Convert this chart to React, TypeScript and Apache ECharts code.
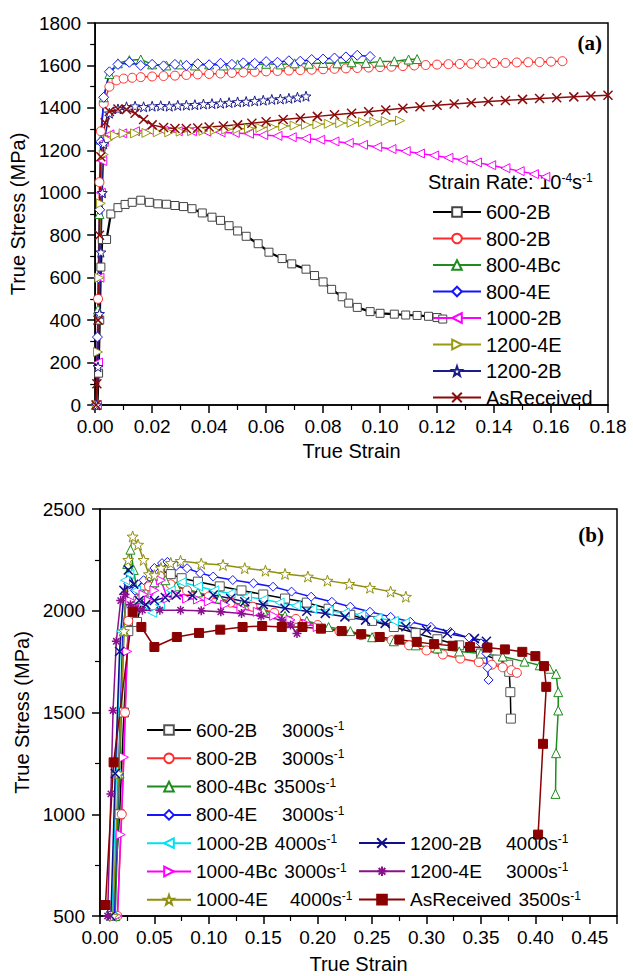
import React, { useEffect, useRef } from 'react';
import * as echarts from 'echarts';

// ---------- (a) quasi-static, strain rate 10^-4 s^-1 ----------
const topXTicks = [0, 0.18, 0.02];
const topYTicks = [0, 1800, 200];

const a600_2B: [number, number][] = [
  [0.0008, 0], [0.0012, 150], [0.0016, 400], [0.002, 650], [0.0025, 780], [0.004, 780], [0.0055, 900], [0.008, 930],
  [0.0105, 945], [0.013, 955], [0.016, 965], [0.019, 955], [0.022, 948], [0.025, 946], [0.028, 940], [0.031, 935],
  [0.034, 925], [0.0376, 905], [0.041, 885], [0.044, 870], [0.047, 845], [0.05, 820], [0.053, 795], [0.0572, 760],
  [0.061, 720], [0.0656, 690], [0.069, 665], [0.074, 640], [0.077, 610], [0.08, 580], [0.083, 545], [0.0867, 510],
  [0.089, 480], [0.092, 460], [0.0965, 440], [0.1, 432], [0.105, 428], [0.109, 424], [0.113, 422], [0.117, 418],
  [0.12, 412], [0.122, 405],
];
const a800_2B: [number, number][] = [
  [0.0005, 0], [0.001, 500], [0.0015, 1050], [0.002, 1290], [0.003, 1420], [0.005, 1500], [0.0075, 1530], [0.01, 1538],
  [0.013, 1542], [0.016, 1545], [0.02, 1548], [0.024, 1550], [0.028, 1552], [0.032, 1555], [0.036, 1558], [0.04, 1560],
  [0.044, 1562], [0.048, 1565], [0.052, 1567], [0.056, 1570], [0.06, 1572], [0.064, 1574], [0.068, 1576], [0.072, 1578],
  [0.076, 1580], [0.08, 1582], [0.084, 1584], [0.088, 1586], [0.092, 1588], [0.096, 1590], [0.1, 1592], [0.104, 1594],
  [0.108, 1597], [0.112, 1600], [0.116, 1602], [0.12, 1604], [0.124, 1606], [0.128, 1607], [0.132, 1608], [0.136, 1610],
  [0.14, 1611], [0.144, 1612], [0.148, 1614], [0.152, 1615], [0.156, 1616], [0.16, 1618], [0.164, 1620],
];
const a800_4Bc: [number, number][] = [
  [0.0005, 0], [0.001, 450], [0.0015, 900], [0.002, 1250], [0.003, 1450], [0.005, 1560], [0.008, 1610], [0.012, 1625],
  [0.016, 1628], [0.02, 1605], [0.025, 1600], [0.03, 1605], [0.035, 1600], [0.04, 1605], [0.045, 1600], [0.05, 1605],
  [0.055, 1603], [0.06, 1608], [0.065, 1605], [0.07, 1610], [0.075, 1608], [0.08, 1612], [0.085, 1610], [0.09, 1615],
  [0.095, 1612], [0.1, 1618], [0.105, 1620], [0.11, 1628], [0.113, 1630],
];
const a800_4E: [number, number][] = [
  [0.0004, 0], [0.0008, 320], [0.0012, 600], [0.0016, 920], [0.002, 1240], [0.003, 1450], [0.005, 1570], [0.008, 1605],
  [0.012, 1615], [0.016, 1600], [0.02, 1605], [0.024, 1598], [0.028, 1605], [0.032, 1600], [0.036, 1608], [0.04, 1603],
  [0.044, 1610], [0.048, 1605], [0.052, 1612], [0.056, 1610], [0.06, 1618], [0.064, 1615], [0.068, 1622], [0.072, 1620],
  [0.076, 1628], [0.08, 1630], [0.084, 1635], [0.088, 1640], [0.092, 1648], [0.0965, 1642],
];
const a1000_2B: [number, number][] = [
  [0.0006, 0], [0.001, 200], [0.0015, 600], [0.002, 1000], [0.0025, 1150], [0.003, 1240], [0.005, 1275], [0.0095, 1280],
  [0.014, 1290], [0.019, 1295], [0.024, 1292], [0.029, 1290], [0.034, 1290], [0.039, 1288], [0.044, 1285], [0.049, 1282],
  [0.054, 1278], [0.059, 1272], [0.064, 1268], [0.069, 1262], [0.074, 1256], [0.079, 1250], [0.084, 1242], [0.089, 1235],
  [0.094, 1226], [0.099, 1216], [0.104, 1206], [0.109, 1196], [0.114, 1185], [0.119, 1176], [0.124, 1165], [0.129, 1154],
  [0.134, 1143], [0.139, 1130], [0.144, 1116], [0.149, 1102], [0.154, 1088], [0.158, 1075],
];
const a1200_4E: [number, number][] = [
  [0.0006, 0], [0.001, 250], [0.0015, 600], [0.002, 950], [0.003, 1180], [0.0046, 1250], [0.007, 1270], [0.01, 1280],
  [0.014, 1280], [0.018, 1282], [0.022, 1285], [0.026, 1285], [0.03, 1288], [0.034, 1290], [0.038, 1292], [0.042, 1295],
  [0.046, 1298], [0.05, 1300], [0.054, 1303], [0.058, 1306], [0.062, 1310], [0.066, 1314], [0.07, 1317], [0.074, 1320],
  [0.078, 1322], [0.082, 1325], [0.086, 1328], [0.09, 1330], [0.094, 1333], [0.098, 1335], [0.102, 1338], [0.107, 1340],
];
const a1200_2B: [number, number][] = [
  [0.0005, 0], [0.001, 180], [0.0015, 430], [0.002, 720], [0.0025, 1000], [0.003, 1230], [0.005, 1375], [0.008, 1395],
  [0.011, 1405], [0.014, 1408], [0.017, 1405], [0.02, 1408], [0.023, 1410], [0.026, 1408], [0.029, 1412], [0.032, 1413],
  [0.035, 1415], [0.038, 1418], [0.041, 1420], [0.044, 1422], [0.047, 1425], [0.05, 1428], [0.053, 1430], [0.056, 1433],
  [0.059, 1436], [0.062, 1440], [0.065, 1442], [0.068, 1445], [0.071, 1450], [0.074, 1455],
];
const aAsReceived: [number, number][] = [
  [0.0003, 0], [0.0006, 100], [0.001, 400], [0.0015, 800], [0.002, 1170], [0.0035, 1330], [0.005, 1383], [0.008, 1395],
  [0.011, 1392], [0.014, 1375], [0.017, 1345], [0.02, 1320], [0.024, 1308], [0.028, 1303], [0.032, 1303], [0.036, 1305],
  [0.04, 1310], [0.045, 1315], [0.05, 1320], [0.055, 1328], [0.06, 1335], [0.066, 1345], [0.072, 1352], [0.078, 1360],
  [0.084, 1368], [0.09, 1375], [0.096, 1382], [0.102, 1390], [0.108, 1398], [0.114, 1405], [0.12, 1412], [0.126, 1418],
  [0.132, 1424], [0.138, 1430], [0.144, 1435], [0.15, 1440], [0.156, 1444], [0.162, 1448], [0.168, 1452], [0.174, 1456],
  [0.18, 1460],
];

// ---------- (b) dynamic ----------
const botXTicks = [0, 0.475, 0.05];
const botYTicks = [500, 2500, 500];
const botRates = ['3000', '3000', '3500', '3000', '4000', '3000', '4000', '4000', '3000', '3500'];

const b600_2B: [number, number][] = [
  [0.012, 500], [0.018, 1000], [0.022, 1500], [0.026, 1900], [0.03, 1950], [0.034, 1945], [0.04, 2080], [0.048, 2170],
  [0.055, 2200], [0.065, 2180], [0.075, 2160], [0.09, 2143], [0.11, 2120], [0.13, 2100], [0.15, 2080], [0.17, 2060],
  [0.19, 2040], [0.21, 2010], [0.23, 1980], [0.25, 1950], [0.27, 1920], [0.29, 1890], [0.31, 1860], [0.33, 1830],
  [0.35, 1790], [0.365, 1760], [0.375, 1735], [0.376, 1700], [0.377, 1600], [0.3775, 1470],
];
const b800_2B: [number, number][] = [
  [0.016, 500], [0.02, 1000], [0.023, 1500], [0.026, 1950], [0.03, 2030], [0.035, 2060], [0.045, 2120], [0.055, 2170],
  [0.065, 2130], [0.08, 2100], [0.1, 2070], [0.12, 2040], [0.14, 2020], [0.16, 1990], [0.18, 1960], [0.2, 1930],
  [0.22, 1900], [0.24, 1880], [0.253, 1870], [0.268, 1855], [0.284, 1830], [0.3, 1805], [0.315, 1785], [0.331, 1765],
  [0.348, 1748], [0.36, 1735], [0.37, 1722], [0.378, 1708], [0.383, 1695],
];
const b800_4Bc: [number, number][] = [
  [0.014, 500], [0.018, 1200], [0.022, 1900], [0.025, 2230], [0.028, 2300], [0.031, 2200], [0.035, 2060], [0.04, 2080],
  [0.05, 2140], [0.06, 2150], [0.07, 2120], [0.09, 2090], [0.11, 2060], [0.13, 2030], [0.15, 2000], [0.17, 1975],
  [0.19, 1950], [0.21, 1920], [0.23, 1900], [0.25, 1870], [0.27, 1850], [0.29, 1830], [0.31, 1815], [0.33, 1800],
  [0.35, 1790], [0.37, 1775], [0.39, 1750], [0.404, 1732], [0.413, 1715], [0.419, 1690], [0.421, 1600], [0.421, 1510],
  [0.419, 1300], [0.4185, 1100],
];
const b800_4E: [number, number][] = [
  [0.013, 500], [0.017, 1200], [0.021, 1900], [0.026, 2135], [0.032, 2100], [0.04, 2150], [0.05, 2210], [0.057, 2234],
  [0.062, 2240], [0.07, 2220], [0.08, 2209], [0.092, 2185], [0.104, 2168], [0.122, 2151], [0.141, 2135], [0.159, 2118],
  [0.176, 2094], [0.194, 2069], [0.213, 2044], [0.23, 2020], [0.248, 1995], [0.267, 1970], [0.285, 1946], [0.304, 1921],
  [0.322, 1896], [0.339, 1868], [0.35, 1840], [0.355, 1790], [0.356, 1720], [0.357, 1660],
];
const b1000_2B: [number, number][] = [
  [0.011, 500], [0.015, 1200], [0.019, 1900], [0.023, 2150], [0.027, 2180], [0.033, 2100], [0.04, 2030], [0.048, 1990],
  [0.055, 2030], [0.065, 2100], [0.075, 2140], [0.09, 2120], [0.105, 2100], [0.12, 2085], [0.135, 2070], [0.15, 2055],
  [0.165, 2040], [0.18, 2025], [0.195, 2010], [0.21, 2000], [0.225, 1990], [0.24, 1980], [0.255, 1965], [0.27, 1950],
  [0.28, 1940],
];
const b1000_4Bc: [number, number][] = [
  [0.016, 500], [0.019, 900], [0.022, 1280], [0.025, 1800], [0.028, 2050], [0.033, 2010], [0.04, 2080], [0.045, 2050],
  [0.05, 2100], [0.056, 2150], [0.062, 2060], [0.07, 2080], [0.08, 2060], [0.09, 2055], [0.1, 2045], [0.115, 2030],
  [0.13, 2010], [0.145, 1995], [0.16, 1975], [0.175, 1955], [0.19, 1935], [0.2, 1920],
];
const b1000_4E: [number, number][] = [
  [0.012, 500], [0.017, 1200], [0.022, 1900], [0.026, 2250], [0.03, 2365], [0.035, 2325], [0.04, 2250], [0.045, 2180],
  [0.05, 2175], [0.056, 2210], [0.065, 2235], [0.074, 2245], [0.093, 2232], [0.113, 2225], [0.133, 2209], [0.152, 2197],
  [0.17, 2181], [0.191, 2168], [0.209, 2148], [0.229, 2132], [0.248, 2113], [0.267, 2094], [0.281, 2069],
];
const b1200_2B: [number, number][] = [
  [0.01, 500], [0.014, 1200], [0.018, 1800], [0.022, 2100], [0.026, 2200], [0.031, 2130], [0.036, 2050], [0.042, 2030],
  [0.05, 2050], [0.06, 2065], [0.07, 2077], [0.085, 2075], [0.104, 2077], [0.12, 2060], [0.133, 2044], [0.15, 2030],
  [0.17, 2012], [0.19, 1998], [0.207, 1987], [0.225, 1970], [0.244, 1954], [0.262, 1938], [0.281, 1921], [0.3, 1905],
  [0.319, 1888], [0.344, 1863], [0.355, 1850],
];
const b1200_4E: [number, number][] = [
  [0.007, 500], [0.01, 1100], [0.012, 1510], [0.015, 1850], [0.019, 2050], [0.023, 2080], [0.028, 2030], [0.033, 2010],
  [0.039, 2003], [0.055, 2003], [0.074, 2003], [0.093, 2000], [0.111, 1995], [0.13, 1987], [0.148, 1974], [0.167, 1954],
  [0.175, 1930], [0.181, 1888],
];
const bAsReceived: [number, number][] = [
  [0.005, 554], [0.0125, 1255], [0.03, 1995], [0.038, 1920], [0.05, 1822], [0.0706, 1871], [0.091, 1891], [0.1105, 1907],
  [0.131, 1920], [0.149, 1925], [0.167, 1920], [0.186, 1920], [0.203, 1912], [0.222, 1900], [0.24, 1885], [0.257, 1871],
  [0.275, 1858], [0.291, 1847], [0.307, 1836], [0.324, 1828], [0.34, 1822], [0.356, 1819], [0.372, 1810], [0.388, 1798],
  [0.4, 1777], [0.408, 1728], [0.41, 1626], [0.407, 1346], [0.4025, 900],
];

const FONT = 'Arial, "Liberation Sans", Helvetica, sans-serif';

const SYM = {
  square: 'rect',
  circle: 'circle',
  tri: 'triangle',
  diamond: 'diamond',
  left: 'path://M0,5L10,0L10,10Z',
  right: 'path://M10,5L0,0L0,10Z',
  star: 'path://M5,0L6.2,3.6L10,3.8L7,6.1L8.1,9.8L5,7.6L1.9,9.8L3,6.1L0,3.8L3.8,3.6Z',
  cross: 'path://M0,0L10,10M10,0L0,10',
  aster: 'path://M5,0L5,10M0,5L10,5M1.5,1.5L8.5,8.5M8.5,1.5L1.5,8.5',
};

function mkSeries(name: string, data: [number, number][], color: string, symbol: string, idx: number, opts: any = {}) {
  const filled = opts.filled;
  const lineOnly = symbol === SYM.cross || symbol === SYM.aster;
  return {
    type: 'line',
    name,
    xAxisIndex: idx,
    yAxisIndex: idx,
    data,
    symbol,
    symbolSize: opts.size || 8,
    showSymbol: true,
    showAllSymbol: true,
    smooth: false,
    lineStyle: { color, width: opts.lw || 1.5 },
    itemStyle: {
      color: filled || lineOnly ? color : '#ffffff',
      borderColor: opts.border || color,
      borderWidth: lineOnly ? 1.5 : 1,
    },
    emphasis: { disabled: true },
    z: opts.z || 2,
  };
}

function axisCommon() {
  return {
    axisLine: { show: true, onZero: false, lineStyle: { color: '#000', width: 1.5 } },
    axisTick: { show: true, inside: false, length: 8, lineStyle: { color: '#000', width: 1.5 } },
    minorTick: { show: true, splitNumber: 2, length: 5, lineStyle: { color: '#000', width: 1.2 } },
    splitLine: { show: false },
    minorSplitLine: { show: false },
    axisLabel: { color: '#000', fontSize: 19, fontFamily: FONT },
    nameTextStyle: { color: '#000', fontSize: 20, fontFamily: FONT },
  };
}

const topNames = ['600-2B', '800-2B', '800-4Bc', '800-4E', '1000-2B', '1200-4E', '1200-2B', 'AsReceived'];
const botNames = ['600-2B', '800-2B', '800-4Bc', '800-4E', '1000-2B', '1000-4Bc', '1000-4E', '1200-2B', '1200-4E', 'AsReceived'];
const nameTok: Record<string, string> = {
  '600-2B': 'a', '800-2B': 'a', '800-4Bc': 'b', '800-4E': 'a', '1000-2B': 'b', '1000-4Bc': 'b',
  '1000-4E': 'c', '1200-2B': 'd', '1200-4E': 'd', AsReceived: 'b',
};

export default function App() {
  const ref = useRef<HTMLDivElement>(null);
  useEffect(() => {
    document.body.style.margin = '0';
    const chart = echarts.init(ref.current as HTMLDivElement, null, { renderer: 'svg' });

    const topSeries = [
      mkSeries(topNames[0], a600_2B, '#000000', SYM.square, 0, { lw: 2.2, border: '#444' }),
      mkSeries(topNames[1], a800_2B, '#ff2a2a', SYM.circle, 0, { size: 9 }),
      mkSeries(topNames[2], a800_4Bc, '#1e8c1e', SYM.tri, 0, { size: 9 }),
      mkSeries(topNames[3], a800_4E, '#1414ff', SYM.diamond, 0, { size: 10 }),
      mkSeries(topNames[4], a1000_2B, '#ff00ff', SYM.left, 0, { size: 9 }),
      mkSeries(topNames[5], a1200_4E, '#9a9a10', SYM.right, 0, { size: 9 }),
      mkSeries(topNames[6], a1200_2B, '#1c1c8c', SYM.star, 0, { size: 10 }),
      mkSeries(topNames[7], aAsReceived, '#8b0a0a', SYM.cross, 0, { size: 9 }),
    ];
    const bColors = ['#000000', '#ff2a2a', '#1e8c1e', '#1414ff', '#00e0ee', '#ff00ff', '#8f8f10', '#10108a', '#8b108b', '#8b0000'];
    const bSyms = [SYM.square, SYM.circle, SYM.tri, SYM.diamond, SYM.left, SYM.right, SYM.star, SYM.cross, SYM.aster, SYM.square];
    const bData = [b600_2B, b800_2B, b800_4Bc, b800_4E, b1000_2B, b1000_4Bc, b1000_4E, b1200_2B, b1200_4E, bAsReceived];
    const botSeries = botNames.map((n, i) =>
      mkSeries('b:' + n, bData[i], bColors[i], bSyms[i], 1, {
        size: i === 6 ? 11 : 9,
        filled: i === 9,
        border: i === 0 ? '#555' : undefined,
      })
    );

    const botFormatter = (name: string) => {
      const n = name.replace(/^b:/, '');
      const i = botNames.indexOf(n);
      return `{${nameTok[n]}|${n}}{r|${botRates[i]}s}{s|-1}`;
    };
    const rich = {
      a: { fontSize: 19, lineHeight: 20, width: 86, color: '#000', fontFamily: FONT },
      b: { fontSize: 19, lineHeight: 20, padding: [0, 7, 0, 0], color: '#000', fontFamily: FONT },
      c: { fontSize: 19, lineHeight: 20, width: 94, color: '#000', fontFamily: FONT },
      d: { fontSize: 19, lineHeight: 20, width: 96, color: '#000', fontFamily: FONT },
      r: { fontSize: 19, lineHeight: 20, color: '#000', fontFamily: FONT },
      s: { fontSize: 12, lineHeight: 12, verticalAlign: 'top', color: '#000', fontFamily: FONT },
    };
    const plain = (v: number) => String(v);

    const option: any = {
      animation: false,
      textStyle: { fontFamily: FONT },
      grid: [
        { left: 93, top: 23, width: 515, height: 382, show: true, borderColor: '#000', borderWidth: 1.5, backgroundColor: 'transparent' },
        { left: 100, top: 509, width: 517, height: 407, show: true, borderColor: '#000', borderWidth: 1.5, backgroundColor: 'transparent' },
      ],
      xAxis: [
        {
          ...axisCommon(), type: 'value', gridIndex: 0, min: topXTicks[0], max: topXTicks[1], interval: topXTicks[2],
          name: 'True Strain', nameLocation: 'middle', nameGap: 36,
          axisLabel: { ...axisCommon().axisLabel, margin: 12, formatter: (v: number) => v.toFixed(2) },
        },
        {
          ...axisCommon(), type: 'value', gridIndex: 1, min: botXTicks[0], max: botXTicks[1], interval: botXTicks[2],
          name: 'True Strain', nameLocation: 'middle', nameGap: 38,
          axisLabel: { ...axisCommon().axisLabel, margin: 12, showMaxLabel: false, formatter: (v: number) => v.toFixed(2) },
        },
      ],
      yAxis: [
        {
          ...axisCommon(), type: 'value', gridIndex: 0, min: topYTicks[0], max: topYTicks[1], interval: topYTicks[2],
          name: 'True Stress (MPa)', nameLocation: 'middle', nameGap: 57, nameRotate: 90,
          axisLabel: { ...axisCommon().axisLabel, margin: 14, formatter: plain },
        },
        {
          ...axisCommon(), type: 'value', gridIndex: 1, min: botYTicks[0], max: botYTicks[1], interval: botYTicks[2],
          name: 'True Stress (MPa)', nameLocation: 'middle', nameGap: 64, nameRotate: 90,
          axisLabel: { ...axisCommon().axisLabel, margin: 15, formatter: plain },
        },
      ],
      legend: [
        {
          data: topNames, orient: 'vertical', left: 427, top: 197, itemWidth: 48, itemHeight: 12, itemGap: 6.5,
          selectedMode: false, textStyle: { fontSize: 20, lineHeight: 20, color: '#000', fontFamily: FONT },
        },
        {
          data: botNames.slice(0, 7).map((n) => 'b:' + n), orient: 'vertical', left: 141, top: 715, itemWidth: 44,
          itemHeight: 12, itemGap: 8.3, selectedMode: false, formatter: botFormatter,
          textStyle: { fontSize: 19, lineHeight: 20, color: '#000', fontFamily: FONT, rich },
        },
        {
          data: botNames.slice(7).map((n) => 'b:' + n), orient: 'vertical', left: 353, top: 828, itemWidth: 46,
          itemHeight: 12, itemGap: 8.3, selectedMode: false, formatter: botFormatter,
          textStyle: { fontSize: 19, lineHeight: 20, color: '#000', fontFamily: FONT, rich },
        },
      ],
      graphic: [
        {
          type: 'text', x: 428, y: 182,
          style: {
            text: 'Strain Rate: 10{s|-4}s{s|-1}', fontSize: 20, lineHeight: 20, fontFamily: FONT, fill: '#000',
            verticalAlign: 'middle',
            rich: { s: { fontSize: 12, lineHeight: 12, verticalAlign: 'top', fill: '#000', fontFamily: FONT } },
          },
        },
        {
          type: 'text', x: 602, y: 43,
          style: { text: '(a)', fontSize: 21, fontWeight: 'bold', fontFamily: '"Liberation Serif", "Times New Roman", serif', fill: '#000', align: 'right', verticalAlign: 'middle' },
        },
        {
          type: 'text', x: 604, y: 535,
          style: { text: '(b)', fontSize: 21, fontWeight: 'bold', fontFamily: '"Liberation Serif", "Times New Roman", serif', fill: '#000', align: 'right', verticalAlign: 'middle' },
        },
      ],
      series: [...topSeries, ...botSeries],
    };
    chart.setOption(option);
    return () => chart.dispose();
  }, []);
  return <div ref={ref} style={{ width: 633, height: 976 }} />;
}
